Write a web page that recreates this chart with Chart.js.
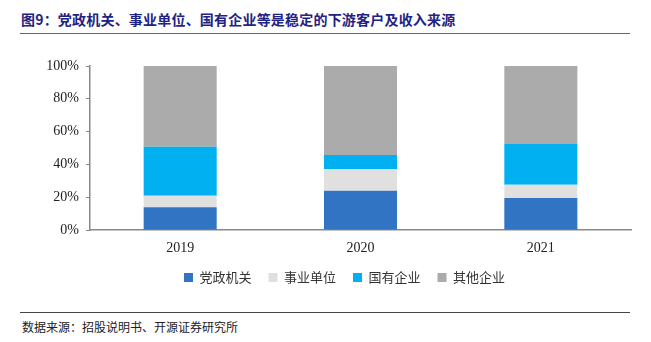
<!DOCTYPE html>
<html>
<head>
<meta charset="utf-8">
<script src="https://cdn.jsdelivr.net/npm/chart.js@4"></script>
<style>
  body { margin: 0; background: #fff; }
  #page { position: relative; width: 651px; height: 342px; overflow: hidden; }
  #title {
    position: absolute; left: 21px; top: 9px;
    font: bold 14px "Noto Sans CJK SC", sans-serif; color: #1f2383;
    letter-spacing: 0.2px; white-space: nowrap;
  }
  #topLine { position: absolute; left: 20px; top: 33px; width: 610px; height: 0; border-top: 1.5px solid #666; }
  #chartBox { position: absolute; left: 0; top: 0; width: 651px; height: 302px; }
  #bottomLine { position: absolute; left: 20px; top: 312px; width: 610px; height: 0; border-top: 1.5px solid #444; }
  #source {
    position: absolute; left: 22px; top: 318px;
    font: 12px "Noto Sans CJK SC", sans-serif; color: #222; white-space: nowrap;
  }
</style>
</head>
<body>
<div id="page">
  <div id="title">图9：党政机关、事业单位、国有企业等是稳定的下游客户及收入来源</div>
  <div id="topLine"></div>
  <div id="chartBox"><canvas id="chart"></canvas></div>
  <div id="bottomLine"></div>
  <div id="source">数据来源：招股说明书、开源证券研究所</div>
</div>
<script>
const years = ['2019', '2020', '2021'];
const partyGov = [13.8, 24.0, 19.5];
const institutions = [7.1, 13.0, 8.1];
const stateOwned = [29.9, 8.7, 24.8];
const otherEnterprises = [49.2, 54.3, 47.6];
const yTicks = [0, 20, 40, 60, 80, 100];

const serif = '"Liberation Serif", "Times New Roman", serif';

// legend sits a bit right of the canvas centre in the original
const shiftLegend = {
  id: 'shiftLegend',
  afterLayout(chart) {
    chart.legend.left += 24;
    chart.legend.right += 24;
  }
};

const ctx = document.getElementById('chart').getContext('2d');
new Chart(ctx, {
  type: 'bar',
  data: {
    labels: years,
    datasets: [
      { label: '党政机关', data: partyGov, backgroundColor: '#3174c4' },
      { label: '事业单位', data: institutions, backgroundColor: '#e0e0e0' },
      { label: '国有企业', data: stateOwned, backgroundColor: '#00b0f0' },
      { label: '其他企业', data: otherEnterprises, backgroundColor: '#ababab' }
    ]
  },
  options: {
    responsive: true,
    maintainAspectRatio: false,
    animation: false,
    layout: { padding: { top: 66, left: 10, right: 20, bottom: 8 } },
    datasets: { bar: { categoryPercentage: 1, barPercentage: 0.405 } },
    plugins: {
      tooltip: { enabled: false },
      legend: {
        position: 'bottom',
        labels: {
          boxWidth: 9, boxHeight: 9, padding: 17, color: '#333',
          font: { family: '"Noto Sans CJK SC", sans-serif', size: 13 }
        }
      }
    },
    scales: {
      x: {
        stacked: true,
        afterFit: s => { s.height = 24; },
        border: { color: '#888', width: 1.5 },
        grid: { display: false },
        ticks: { color: '#222', padding: 2, font: { family: serif, size: 14 } }
      },
      y: {
        stacked: true,
        min: 0, max: 100,
        afterFit: s => { s.width = 80; },
        afterBuildTicks: s => { s.ticks = yTicks.map(v => ({ value: v })); },
        border: { color: '#888', width: 1.5 },
        grid: { drawOnChartArea: false, tickLength: 4, color: '#888' },
        ticks: { color: '#222', padding: 7, font: { family: serif, size: 14 }, callback: v => v + '%' }
      }
    }
  },
  plugins: [shiftLegend]
});
</script>
</body>
</html>
